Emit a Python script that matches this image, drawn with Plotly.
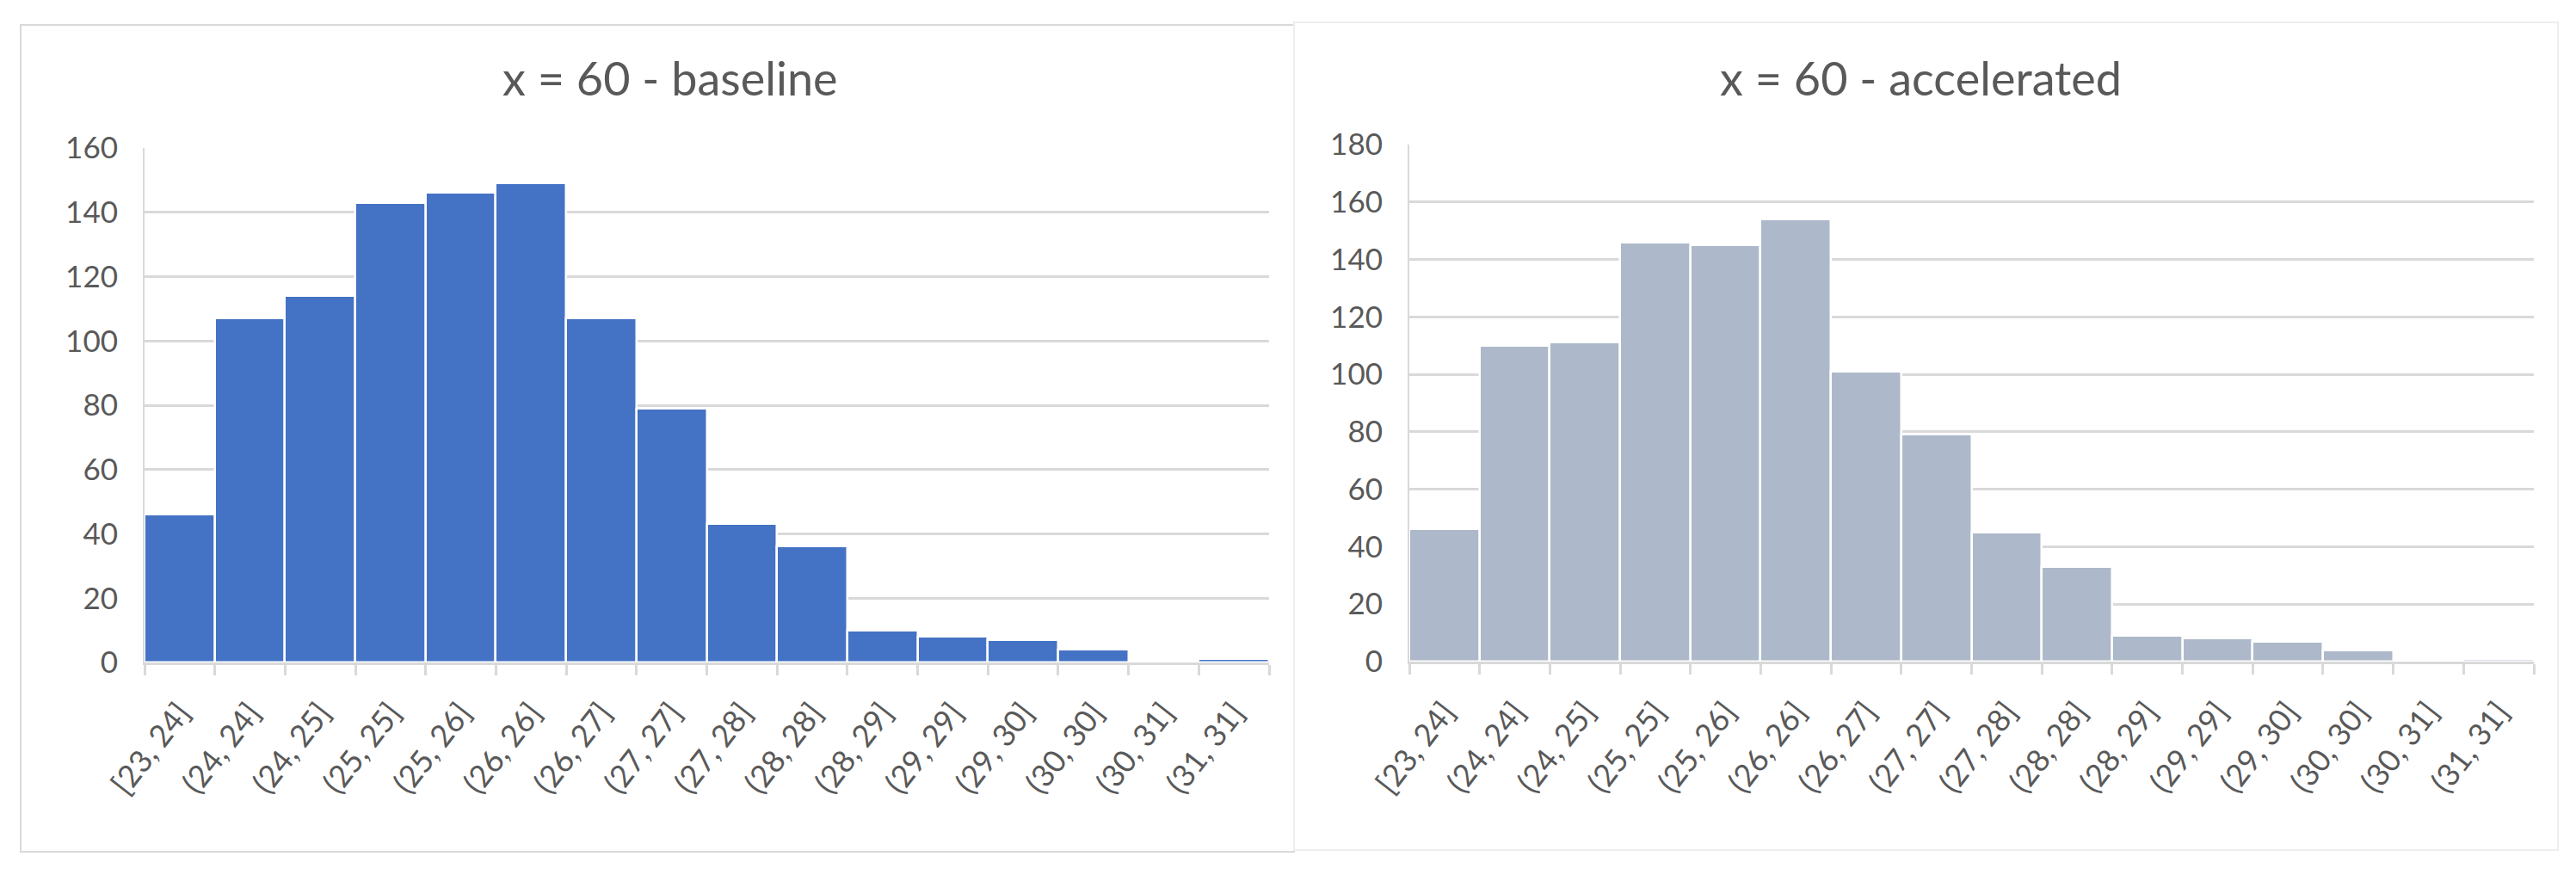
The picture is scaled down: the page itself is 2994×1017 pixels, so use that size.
import plotly.graph_objects as go

# histogram bins (same for both panels)
categories = ['[23, 24]', '(24, 24]', '(24, 25]', '(25, 25]', '(25, 26]', '(26, 26]',
              '(26, 27]', '(27, 27]', '(27, 28]', '(28, 28]', '(28, 29]', '(29, 29]',
              '(29, 30]', '(30, 30]', '(30, 31]', '(31, 31]']

baseline_counts = [46, 107, 114, 143, 146, 149, 107, 79, 43, 36, 10, 8, 7, 4, 0, 1]
accelerated_counts = [46, 110, 111, 146, 145, 154, 101, 79, 45, 33, 9, 8, 7, 4, 0, 1]

baseline_ticks = [0, 20, 40, 60, 80, 100, 120, 140, 160]
accelerated_ticks = [0, 20, 40, 60, 80, 100, 120, 140, 160, 180]

titles = ['x = 60 - baseline', 'x = 60 - accelerated']

W, H = 2994, 1017
FONT = 'Lato'
TXT = '#595959'
GRID = '#d9d9d9'


def fx(p):
    return p / W


def fy(p):
    return 1 - p / H


fig = go.Figure()
fig.add_trace(go.Bar(x=categories, y=baseline_counts, xaxis='x', yaxis='y',
                     marker=dict(color='#4472C4', line=dict(color='white', width=2.5))))
fig.add_trace(go.Bar(x=categories, y=accelerated_counts, xaxis='x2', yaxis='y2',
                     marker=dict(color='#ADB9CA', line=dict(color='white', width=2.5))))

xcommon = dict(type='category', tickangle=-52, ticks='outside', tickson='boundaries',
               ticklen=12, tickwidth=2.5, tickcolor=GRID, showline=True, linecolor=GRID,
               linewidth=3, showgrid=False, automargin=False,
               tickfont=dict(family=FONT, size=36, color=TXT), ticklabelstandoff=20)
ycommon = dict(showgrid=True, gridcolor=GRID, gridwidth=3, zeroline=False, showline=True,
               linecolor=GRID, linewidth=2, ticks='', ticklabelstandoff=22, automargin=False,
               tickfont=dict(family=FONT, size=35, color=TXT))

fig.update_layout(
    width=W, height=H,
    margin=dict(l=0, r=0, t=0, b=0, autoexpand=False),
    paper_bgcolor='white', plot_bgcolor='white',
    showlegend=False, bargap=0,
    xaxis=dict(domain=[fx(168), fx(1475)], anchor='y', **xcommon),
    yaxis=dict(domain=[fy(770), fy(172)], anchor='x', range=[0, 160],
               tickvals=baseline_ticks, **ycommon),
    xaxis2=dict(domain=[fx(1638), fx(2945)], anchor='y2', **xcommon),
    yaxis2=dict(domain=[fy(769), fy(168)], anchor='x2', range=[0, 180],
                tickvals=accelerated_ticks, **ycommon),
)

# chart-area borders
fig.add_shape(type='rect', xref='paper', yref='paper', x0=fx(24), x1=fx(1504),
              y0=fy(990), y1=fy(29), line=dict(color='#d9d9d9', width=2), layer='below')
fig.add_shape(type='rect', xref='paper', yref='paper', x0=fx(1504), x1=fx(2973),
              y0=fy(988), y1=fy(26), line=dict(color='#eeeeee', width=2), layer='below')

# titles
for t, cx in zip(titles, [779, 2232]):
    fig.add_annotation(text=t, xref='paper', yref='paper', x=fx(cx), y=fy(90),
                       xanchor='center', yanchor='middle', showarrow=False,
                       font=dict(family=FONT, size=54, color=TXT))

fig.write_html("out.html", config={'displayModeBar': False},
               post_script="document.body.style.margin='0';")
